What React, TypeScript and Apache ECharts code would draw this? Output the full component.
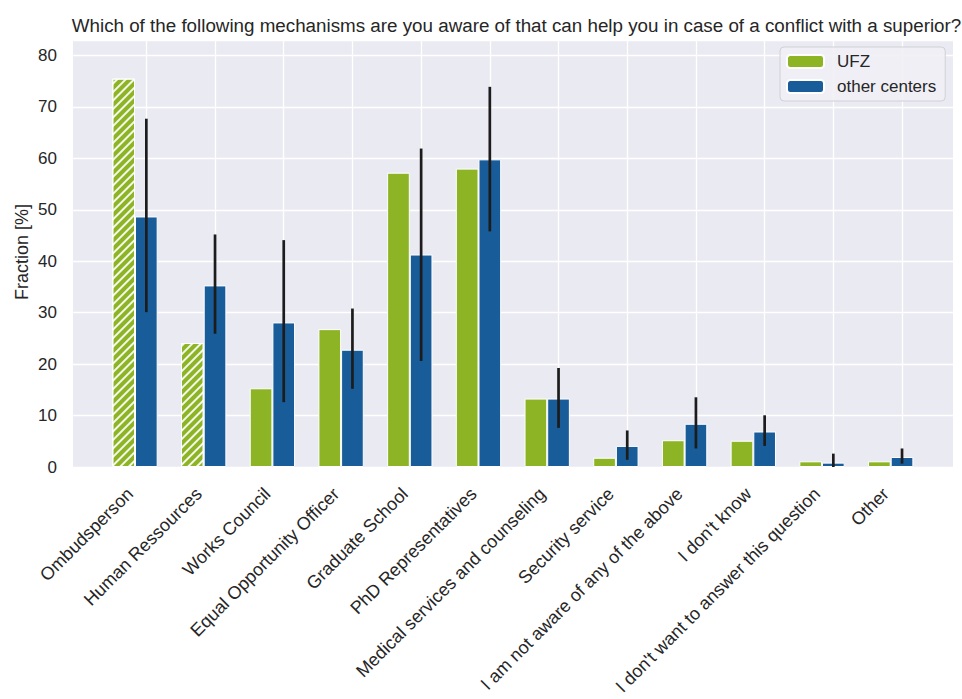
import React, { useEffect, useRef } from "react";
import * as echarts from "echarts";

const categories = [
  "Ombudsperson",
  "Human Ressources",
  "Works Council",
  "Equal Opportunity Officer",
  "Graduate School",
  "PhD Representatives",
  "Medical services and counseling",
  "Security service",
  "I am not aware of any of the above",
  "I don't know",
  "I don't want to answer this question",
  "Other",
];
const ufzValues = [75.5, 24.1, 15.3, 26.8, 57.2, 58.0, 13.3, 1.8, 5.2, 5.1, 1.1, 1.1];
const otherValues = [48.7, 35.3, 28.1, 22.8, 41.3, 59.8, 13.3, 4.1, 8.4, 6.9, 0.85, 1.95];
const otherErrLow = [30.1, 25.9, 12.6, 15.2, 20.6, 45.8, 7.6, 1.4, 3.6, 4.1, 0.0, 0.65];
const otherErrHigh = [67.7, 45.2, 44.1, 30.8, 61.9, 73.9, 19.25, 7.1, 13.55, 10.05, 2.6, 3.6];
const hatchedCategories = ["Ombudsperson", "Human Ressources"];
const seriesNames = ["UFZ", "other centers"];
const yAxisTitle = "Fraction [%]";
const chartTitle =
  "Which of the following mechanisms are you aware of that can help you in case of a conflict with a superior?";
const yMin = 0;
const yMax = 83;
const yInterval = 10;

const FONT = "'Liberation Sans', Arial, sans-serif";
const GREEN = "#8CB424";
const BLUE = "#185C99";
const TEXT = "#262626";

export default function App() {
  const ref = useRef<HTMLDivElement>(null);
  useEffect(() => {
    if (!ref.current) return;
    const chart = echarts.init(ref.current, undefined, { renderer: "svg" });
    const gridTop = 40;
    const gridBottom = 699 - 467;
    const option: any = {
      animation: false,
      textStyle: { fontFamily: FONT, color: TEXT },
      title: {
        text: chartTitle,
        left: 511.5,
        top: 11,
        textAlign: "center",
        textStyle: { fontFamily: FONT, fontSize: 18.8, fontWeight: "normal", color: TEXT },
      },
      legend: {
        data: seriesNames,
        orient: "vertical",
        left: 780,
        top: 47,
        padding: [6, 9, 6, 6],
        itemWidth: 37,
        itemHeight: 13,
        itemGap: 8,
        backgroundColor: "rgba(240,240,245,0.9)",
        borderColor: "#d0d0d6",
        borderWidth: 1,
        borderRadius: 4,
        textStyle: { fontFamily: FONT, fontSize: 17, color: TEXT, padding: [0, 0, 0, 8] },
      },
      graphic: [
        {
          type: "text",
          x: 22,
          y: 252,
          rotation: Math.PI / 2,
          style: {
            text: yAxisTitle,
            fontFamily: FONT,
            fontSize: 18,
            fill: TEXT,
            align: "center",
            verticalAlign: "middle",
          },
        },
      ],
      grid: [
        {
          left: 73,
          right: 9,
          top: gridTop,
          bottom: gridBottom,
          show: true,
          backgroundColor: "#EAEAF2",
          borderWidth: 0,
        },
        {
          left: 100.65,
          right: 962 - 925.05,
          top: gridTop,
          bottom: gridBottom,
          show: false,
        },
      ],
      xAxis: [
        { type: "value", gridIndex: 0, show: false, min: 0, max: 1 },
        {
          type: "category",
          gridIndex: 1,
          data: categories,
          axisLine: { show: false },
          axisTick: { show: false },
          splitLine: { show: false },
          axisLabel: {
            interval: 0,
            rotate: 45,
            margin: 19,
            fontSize: 18,
            fontFamily: FONT,
            color: TEXT,
            padding: [0, 7, 0, 0],
          },
        },
      ],
      yAxis: [
        {
          type: "value",
          gridIndex: 0,
          min: yMin,
          max: yMax,
          interval: yInterval,
          axisLine: { show: false },
          axisTick: { show: false },
          axisLabel: { fontSize: 17, fontFamily: FONT, color: TEXT, margin: 16, showMaxLabel: false },
          splitLine: { show: true, lineStyle: { color: "#ffffff", width: 1.3 } },
        },
        {
          type: "value",
          gridIndex: 1,
          min: yMin,
          max: yMax,
          interval: yInterval,
          show: false,
          splitLine: { show: false },
        },
      ],
      series: [
        {
          name: seriesNames[0],
          type: "bar",
          xAxisIndex: 1,
          yAxisIndex: 1,
          barWidth: "33%",
          barGap: "0%",
          z: 2,
          itemStyle: { color: GREEN, borderColor: "#ffffff", borderWidth: 1 },
          data: ufzValues.map((v, i) =>
            hatchedCategories.includes(categories[i])
              ? {
                  value: v,
                  itemStyle: {
                    decal: {
                      symbol: "rect",
                      symbolSize: 1,
                      color: "rgba(255,255,255,0.9)",
                      dashArrayX: [1, 0],
                      dashArrayY: [1.5, 3.9],
                      rotation: -Math.PI / 4,
                    },
                  },
                }
              : v
          ),
        },
        {
          name: seriesNames[1],
          type: "bar",
          xAxisIndex: 1,
          yAxisIndex: 1,
          barWidth: "33%",
          barGap: "0%",
          z: 2,
          itemStyle: { color: BLUE, borderColor: "#ffffff", borderWidth: 1 },
          data: otherValues,
          markLine: {
            silent: true,
            z: 1,
            symbol: "none",
            label: { show: false },
            emphasis: { disabled: true },
            lineStyle: { color: "#ffffff", width: 1.3, type: "solid" },
            data: categories.map((c) => ({ xAxis: c })),
          },
        },
        {
          name: "error",
          type: "custom",
          xAxisIndex: 1,
          yAxisIndex: 1,
          z: 4,
          silent: true,
          encode: { x: 0, y: [1, 2] },
          data: categories.map((_, i) => [i, otherErrLow[i], otherErrHigh[i]]),
          renderItem: (params: any, api: any) => {
            const i = api.value(0);
            const lo = api.coord([i, api.value(1)]);
            const hi = api.coord([i, api.value(2)]);
            const bw = api.size([1, 0])[0];
            const x = lo[0] + bw * 0.165;
            return {
              type: "line",
              shape: { x1: x, y1: lo[1], x2: x, y2: hi[1] },
              style: { stroke: "#1c1c1c", lineWidth: 2.7 },
            };
          },
        },
      ],
    };
    chart.setOption(option);
    return () => chart.dispose();
  }, []);
  return (
    <div
      ref={ref}
      style={{ position: "fixed", left: 0, top: 0, width: 962, height: 699, background: "#ffffff" }}
    />
  );
}
